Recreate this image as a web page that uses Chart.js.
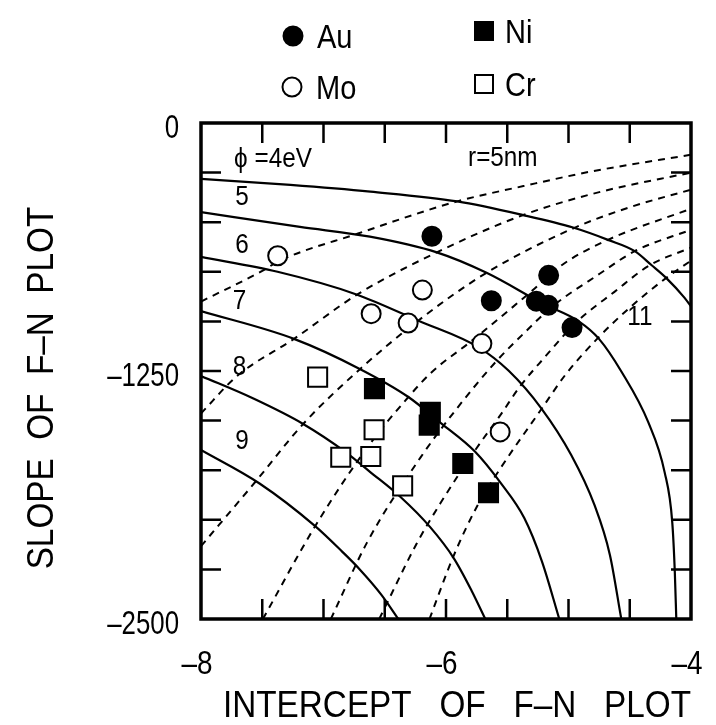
<!DOCTYPE html>
<html>
<head>
<meta charset="utf-8">
<script src="https://cdn.jsdelivr.net/npm/chart.js@4/dist/chart.umd.min.js"></script>
<style>
  html, body { margin: 0; padding: 0; background: #fff; }
  #wrap { width: 716px; height: 725px; }
</style>
</head>
<body>
<div id="wrap"><canvas id="c" width="716" height="725"></canvas></div>
<script>
// Axis ranges and labelled ticks
const xRange = [-8, -4];
const yRange = [-2500, 0];
const xTickLabels = [-8, -6, -4];
const yTickLabels = [0, -1250, -2500];
const xTickStep = 0.5;
const yTickStep = 250;

// Measured F-N plot points: [intercept, slope]
const au = [[-6.115, -571], [-5.162, -768], [-5.63, -896], [-5.263, -898], [-5.165, -919], [-4.971, -1031]];
const mo = [[-7.374, -669], [-6.193, -842], [-6.611, -961], [-6.309, -1008], [-5.707, -1112], [-5.558, -1557]];
const ni = [[-6.584, -1339], [-6.128, -1458], [-6.137, -1523], [-5.863, -1716], [-5.653, -1864]];
const cr = [[-7.048, -1281], [-6.587, -1546], [-6.859, -1685], [-6.614, -1681], [-6.354, -1829]];

// Constant work function curves (solid)
const phi4 = [[-8, -282], [-7.27, -312], [-6.617, -346], [-5.908, -395], [-5.37, -464], [-4.963, -527], [-4.678, -589], [-4.459, -646], [-4.321, -717], [-4.199, -783], [-4.054, -880], [-3.998, -926]];
const phi5 = [[-8, -449], [-7.192, -524], [-6.621, -573], [-6.075, -652], [-5.669, -755], [-5.198, -914], [-4.913, -1001], [-4.751, -1088], [-4.566, -1255], [-4.349, -1508], [-4.215, -1761], [-4.153, -2013], [-4.132, -2266], [-4.12, -2500]];
const phi6 = [[-8, -675], [-7.375, -750], [-6.731, -864], [-6.22, -998], [-5.731, -1132], [-5.488, -1249], [-5.222, -1438], [-4.98, -1671], [-4.789, -1924], [-4.662, -2177], [-4.569, -2500]];
const phi7 = [[-8, -948], [-7.241, -1088], [-6.696, -1242], [-6.307, -1381], [-6.039, -1514], [-5.764, -1656], [-5.554, -1814], [-5.361, -1991], [-5.217, -2209], [-5.075, -2500]];
const phi8 = [[-8, -1275], [-7.572, -1389], [-7.166, -1517], [-6.817, -1660], [-6.623, -1757], [-6.371, -1885], [-6.129, -2037], [-5.936, -2194], [-5.791, -2357], [-5.679, -2500]];
const phi9 = [[-8, -1648], [-7.522, -1817], [-7.068, -2032], [-6.85, -2159], [-6.704, -2250], [-6.527, -2378], [-6.389, -2500]];

// Constant emitter radius curves (dashed), r = 5 ... 11 nm
const r5 = [[-8, -900], [-7.481, -739], [-7.374, -699], [-6.718, -557], [-5.908, -395], [-5.368, -318], [-4.82, -245], [-4.0, -160]];
const r6 = [[-8, -1464], [-7.709, -1277], [-7.241, -1088], [-6.723, -864], [-6.075, -652], [-5.37, -464], [-4.74, -347], [-4.0, -250]];
const r7 = [[-8, -2133], [-7.554, -1807], [-7.166, -1517], [-6.696, -1237], [-6.22, -993], [-5.669, -755], [-4.947, -527], [-4.496, -424], [-4.0, -336]];
const r8 = [[-7.495, -2500], [-7.068, -2032], [-6.637, -1631], [-6.307, -1381], [-6.117, -1256], [-5.788, -1097], [-5.319, -857], [-5.047, -713], [-4.678, -589], [-4.0, -432]];
const r9 = [[-6.94, -2500], [-6.645, -2115], [-6.206, -1684], [-5.924, -1449], [-5.594, -1204], [-5.346, -1049], [-5.14, -929], [-4.746, -760], [-4.459, -646], [-4.0, -538]];
const r10 = [[-6.545, -2500], [-6.237, -2117], [-6.046, -1917], [-5.764, -1651], [-5.549, -1466], [-5.4, -1331], [-5.202, -1186], [-4.93, -1001], [-4.625, -851], [-4.337, -717], [-4.0, -628]];
const r11 = [[-6.135, -2500], [-5.936, -2179], [-5.744, -1929], [-5.553, -1738], [-5.222, -1443], [-5.024, -1268], [-4.751, -1078], [-4.504, -933], [-4.207, -783], [-4.0, -694]];

// Curve annotations: [text, intercept, slope]
const curveLabels = [
  ['\u03D5 =4eV', -7.73, -222],
  ['5', -7.72, -415],
  ['6', -7.72, -655],
  ['7', -7.74, -940],
  ['8', -7.74, -1270],
  ['9', -7.72, -1645],
  ['r=5nm', -5.82, -215],
  ['11', -4.52, -1020]
];

// Legend entries: [text, marker, filled]
const legendItems = [
  ['Au', 'circle', true], ['Ni', 'rect', true],
  ['Mo', 'circle', false], ['Cr', 'rect', false]
];

const FONT = "'Liberation Sans', Arial, sans-serif";

const toXY = arr => arr.map(p => ({ x: p[0], y: p[1] }));

function markerSet(label, data, style, filled, radius) {
  return {
    label, data: toXY(data), showLine: false,
    pointStyle: style, pointRadius: radius, pointHoverRadius: radius,
    pointBackgroundColor: filled ? '#000' : '#fff',
    pointBorderColor: '#000', pointBorderWidth: 2
  };
}
function curveSet(label, data, dashed) {
  return {
    label, data: toXY(data), showLine: true, pointRadius: 0,
    borderColor: '#000', borderWidth: dashed ? 2 : 2.2,
    borderDash: dashed ? [7, 6] : [], cubicInterpolationMode: 'monotone',
    fill: false
  };
}

// text squeezed horizontally, like the narrow typeface of the figure
function narrowText(ctx, text, x, y, size, sx, align) {
  ctx.save();
  ctx.font = size + 'px ' + FONT;
  const w = ctx.measureText(text).width * sx;
  let left = x;
  if (align === 'center') left = x - w / 2;
  else if (align === 'right') left = x - w;
  ctx.translate(left, y);
  ctx.scale(sx, 1);
  ctx.textAlign = 'left';
  ctx.fillText(text, 0, 0);
  ctx.restore();
}

function drawMarker(ctx, style, filled, cx, cy) {
  ctx.beginPath();
  if (style === 'circle') ctx.arc(cx, cy, 9.5, 0, Math.PI * 2);
  else ctx.rect(cx - 9, cy - 9, 18, 18);
  ctx.fillStyle = filled ? '#000' : '#fff';
  ctx.fill();
  ctx.lineWidth = 2;
  ctx.strokeStyle = '#000';
  ctx.stroke();
}

const frameAndText = {
  id: 'frameAndText',
  afterDatasetsDraw(chart) {
    const { ctx, chartArea: a, scales: { x, y } } = chart;
    ctx.save();
    ctx.strokeStyle = '#000';
    ctx.fillStyle = '#000';

    // inward ticks on all four sides
    ctx.lineWidth = 2.5;
    ctx.beginPath();
    for (let v = xRange[0] + xTickStep; v < xRange[1] - 1e-6; v += xTickStep) {
      const px = x.getPixelForValue(v);
      ctx.moveTo(px, a.bottom); ctx.lineTo(px, a.bottom - 20);
      ctx.moveTo(px, a.top); ctx.lineTo(px, a.top + 20);
    }
    for (let v = yRange[1] - yTickStep; v > yRange[0] + 1e-6; v -= yTickStep) {
      const py = y.getPixelForValue(v);
      ctx.moveTo(a.left, py); ctx.lineTo(a.left + 20, py);
      ctx.moveTo(a.right, py); ctx.lineTo(a.right - 20, py);
    }
    ctx.stroke();

    // frame
    ctx.lineWidth = 3.5;
    ctx.strokeRect(a.left, a.top, a.right - a.left, a.bottom - a.top);

    // tick labels
    ctx.textBaseline = 'alphabetic';
    xTickLabels.forEach(v => {
      const s = (v < 0 ? '\u2013' : '') + Math.abs(v);
      narrowText(ctx, s, x.getPixelForValue(v) - 4, a.bottom + 55, 34, 0.82, 'center');
    });
    yTickLabels.forEach(v => {
      const s = (v < 0 ? '\u2013' : '') + Math.abs(v);
      narrowText(ctx, s, a.left - 22, y.getPixelForValue(v) + 15, 34, 0.76, 'right');
    });

    // axis titles
    narrowText(ctx, 'INTERCEPT   OF   F\u2013N   PLOT', 457, 717, 37, 0.9, 'center');
    ctx.save();
    ctx.translate(53, 388);
    ctx.rotate(-Math.PI / 2);
    narrowText(ctx, 'SLOPE  OF  F\u2013N  PLOT', 0, 0, 37, 0.9, 'center');
    ctx.restore();

    // curve annotations
    curveLabels.forEach(([t, vx, vy]) => {
      narrowText(ctx, t, x.getPixelForValue(vx), y.getPixelForValue(vy), 27, 0.9, 'left');
    });

    // legend (two columns)
    const spots = [[293, 36], [484, 31], [292, 87], [484, 84]];
    legendItems.forEach(([t, style, filled], i) => {
      const [cx, cy] = spots[i];
      drawMarker(ctx, style, filled, cx, cy);
      ctx.fillStyle = '#000';
      narrowText(ctx, t, cx + (style === 'circle' ? 24 : 21), cy + 12, 33, 0.88, 'left');
    });
    ctx.restore();
  }
};

new Chart(document.getElementById('c'), {
  type: 'scatter',
  data: {
    datasets: [
      markerSet('Au', au, 'circle', true, 9.5),
      markerSet('Mo', mo, 'circle', false, 9.5),
      markerSet('Ni', ni, 'rect', true, 13.5),
      markerSet('Cr', cr, 'rect', false, 13.5),
      curveSet('phi4', phi4), curveSet('phi5', phi5), curveSet('phi6', phi6),
      curveSet('phi7', phi7), curveSet('phi8', phi8), curveSet('phi9', phi9),
      curveSet('r5', r5, true), curveSet('r6', r6, true), curveSet('r7', r7, true),
      curveSet('r8', r8, true), curveSet('r9', r9, true), curveSet('r10', r10, true),
      curveSet('r11', r11, true)
    ]
  },
  options: {
    responsive: false,
    animation: false,
    devicePixelRatio: 1,
    layout: { padding: { top: 123, right: 25, left: 0, bottom: 0 } },
    plugins: { legend: { display: false }, tooltip: { enabled: false } },
    scales: {
      x: {
        type: 'linear', min: xRange[0], max: xRange[1],
        ticks: { display: false }, grid: { display: false }, border: { display: false },
        afterFit: s => { s.height = 106; }
      },
      y: {
        type: 'linear', min: yRange[0], max: yRange[1],
        ticks: { display: false }, grid: { display: false }, border: { display: false },
        afterFit: s => { s.width = 201; }
      }
    }
  },
  plugins: [frameAndText]
});
</script>
</body>
</html>
